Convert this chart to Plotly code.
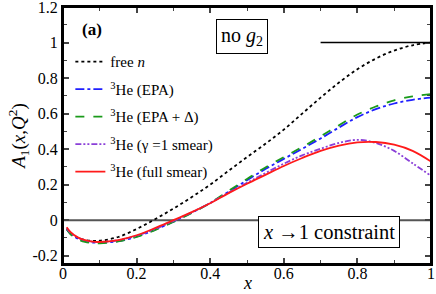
import plotly.graph_objects as go

x_vals = [0.01, 0.02, 0.04, 0.06, 0.08, 0.1, 0.15, 0.2, 0.25, 0.3, 0.35, 0.4, 0.45,
          0.5, 0.55, 0.6, 0.65, 0.7, 0.75, 0.8, 0.85, 0.9, 0.95, 1.0]

free_n = [-0.05, -0.075, -0.10, -0.112, -0.117, -0.116, -0.095, -0.05, 0.005, 0.065, 0.13,
          0.2, 0.278, 0.355, 0.43, 0.51, 0.6, 0.69, 0.775, 0.85, 0.91, 0.955, 0.985, 1.0]
epa = [-0.05, -0.076, -0.104, -0.12, -0.126, -0.127, -0.118, -0.093, -0.054, -0.008, 0.042,
       0.096, 0.16, 0.225, 0.288, 0.345, 0.402, 0.46, 0.522, 0.58, 0.625, 0.657, 0.678, 0.69]
epa_delta = [-0.05, -0.078, -0.107, -0.123, -0.129, -0.13, -0.12, -0.095, -0.056, -0.01, 0.04,
             0.097, 0.165, 0.232, 0.297, 0.355, 0.412, 0.472, 0.535, 0.595, 0.64, 0.675, 0.697, 0.71]
gamma1 = [-0.045, -0.07, -0.098, -0.113, -0.121, -0.123, -0.113, -0.088, -0.05, -0.005, 0.044,
          0.097, 0.155, 0.21, 0.265, 0.318, 0.365, 0.402, 0.435, 0.452, 0.435, 0.39, 0.32, 0.25]
full_smear = [-0.04, -0.066, -0.097, -0.113, -0.121, -0.123, -0.112, -0.085, -0.045, 0.0, 0.045,
              0.095, 0.152, 0.205, 0.255, 0.305, 0.35, 0.39, 0.42, 0.438, 0.44, 0.425, 0.39, 0.33]

names = ["free <i>n</i>", "<sup>3</sup>He (EPA)", "<sup>3</sup>He (EPA + Δ)",
         "<sup>3</sup>He (γ =1 smear)", "<sup>3</sup>He (full smear)"]
series = [free_n, epa, epa_delta, gamma1, full_smear]
colors = ["black", "#1f1fff", "#1a9a1a", "#8a3fd8", "#ff1a1a"]
dashes = ["dot", "dashdot", "dash", "6px,2px,2px,2px,2px,2px", "solid"]

fig = go.Figure()
for i, (nm, ys, c, d) in enumerate(zip(names, series, colors, dashes)):
    fig.add_trace(go.Scatter(x=x_vals, y=ys, mode="lines", name=nm, legendgroup=str(i),
                             line=dict(color=c, dash=d, width=1.8, shape="spline")))

font_family = "Liberation Serif"
fig.update_layout(
    width=436, height=294,
    margin=dict(l=63, r=5, t=7, b=30),
    plot_bgcolor="white", paper_bgcolor="white",
    font=dict(family=font_family, size=16, color="black"),
    showlegend=True,
    legend=dict(x=0.02, y=0.851, xanchor="left", yanchor="top", bgcolor="rgba(0,0,0,0)",
                font=dict(size=15, family=font_family), tracegroupgap=5, itemwidth=30),
    xaxis=dict(range=[0, 1], tickvals=[0, 0.2, 0.4, 0.6, 0.8, 1.0],
               ticktext=["0", "0.2", "0.4", "0.6", "0.8", "1"],
               tickfont=dict(family=font_family, size=16), ticklabeloverflow="allow",
               ticklabelstandoff=-6,
               ticks="inside", ticklen=6, tickwidth=1.5, mirror="ticks", automargin=False,
               showline=True, linewidth=2, linecolor="black", showgrid=False, zeroline=False,
               minor=dict(dtick=0.1, ticks="inside", ticklen=4, tickwidth=1.2, showgrid=False)),
    yaxis=dict(range=[-0.247, 1.2005], tickvals=[-0.2, 0, 0.2, 0.4, 0.6, 0.8, 1.0, 1.2],
               ticktext=["-0.2", "0", "0.2", "0.4", "0.6", "0.8", "1", "1.2"],
               tickfont=dict(family=font_family, size=16), ticklabeloverflow="allow",
               ticks="inside", ticklen=6, tickwidth=1.5, mirror="ticks", automargin=False,
               showline=True, linewidth=2, linecolor="black", showgrid=False, zeroline=False,
               minor=dict(dtick=0.1, ticks="inside", ticklen=4, tickwidth=1.2, showgrid=False),
               title=dict(text="<i>A</i><sub>1</sub>(<i>x</i>,<i>Q</i><sup>2</sup>)",
                          font=dict(size=19), standoff=2)),
)

fig.add_shape(type="rect", x0=0, x1=1, y0=0, y1=1, xref="paper", yref="paper",
              line=dict(color="black", width=2), fillcolor="rgba(0,0,0,0)")
fig.add_shape(type="line", x0=0, x1=1, y0=0, y1=0, xref="x", yref="y",
              line=dict(color="#555555", width=2), layer="below")
fig.add_shape(type="line", x0=0.7, x1=1, y0=1, y1=1, xref="x", yref="y",
              line=dict(color="black", width=1.5))

fig.add_annotation(x=0.5, y=0, xref="paper", yref="paper", yanchor="middle", yshift=-19,
                   text="<i>x</i>", showarrow=False, font=dict(size=18, family=font_family))
fig.add_annotation(x=0.08, y=1.075, xref="x", yref="y", text="<b>(a)</b>", showarrow=False,
                   font=dict(size=17, family=font_family))
fig.add_annotation(x=0.487, y=1.037, xref="x", yref="y", text="no <i>g</i><sub>2</sub>",
                   showarrow=False, font=dict(size=20, family=font_family),
                   bordercolor="black", borderwidth=1, borderpad=4, bgcolor="white")
fig.add_annotation(x=0.723, y=-0.067, xref="x", yref="y", text="<i>x</i> →1 constraint",
                   showarrow=False, font=dict(size=20.5, family=font_family),
                   bordercolor="black", borderwidth=1, borderpad=4, bgcolor="white")

fig.write_html("out.html", config={"displayModeBar": False},
               post_script="document.body.style.margin='0';document.body.style.overflow='hidden';")
